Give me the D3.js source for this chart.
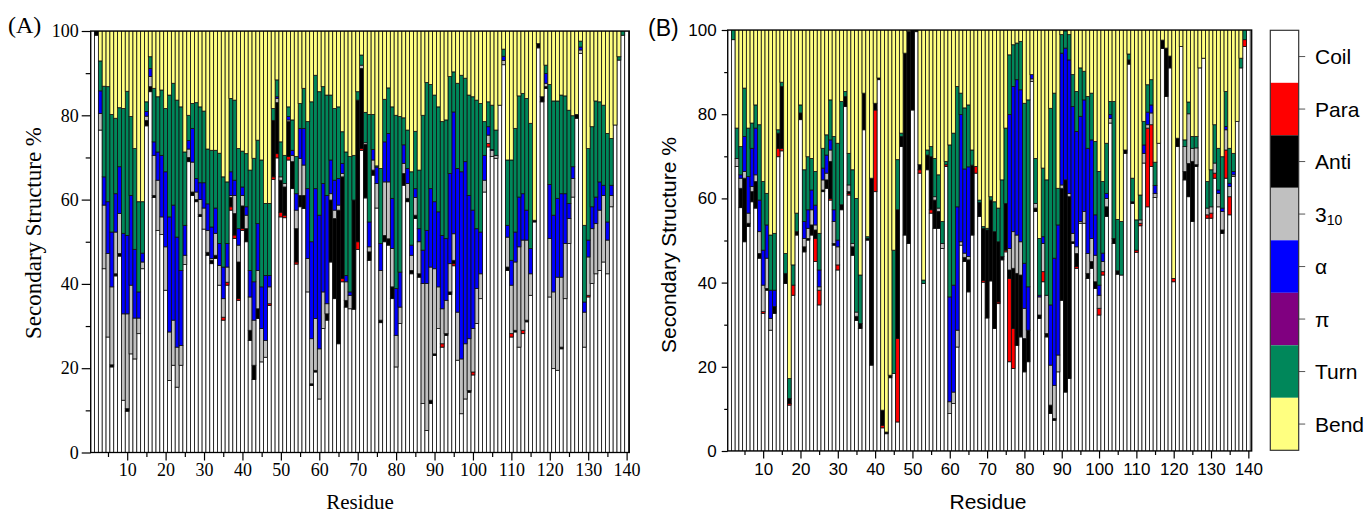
<!DOCTYPE html>
<html>
<head>
<meta charset="utf-8">
<script src="https://cdn.jsdelivr.net/npm/d3@7"></script>
<style>
  body { margin: 0; background: #fff; }
  svg { display: block; }
</style>
</head>
<body>
<svg id="chart" width="1368" height="515"></svg>
<script>
// Residue positions along the protein chain
const residues = d3.range(1, 141);

// Tick values
const yTickValues = [0, 20, 40, 60, 80, 100];
const yMinorTicks = [10, 30, 50, 70, 90];
const xTickValues = [10, 20, 30, 40, 50, 60, 70, 80, 90, 100, 110, 120, 130, 140];
const xMinorTicks = [5, 15, 25, 35, 45, 55, 65, 75, 85, 95, 105, 115, 125, 135];

// Secondary-structure classes, stacked from the bottom up
const classKeys = ["coil", "para", "anti", "h310", "alpha", "pi", "turn", "bend"];
const classLabels = ["Coil", "Para", "Anti", "3_10", "α", "π", "Turn", "Bend"];
const classColors = ["#FFFFFF", "#FF0000", "#000000", "#C0C0C0", "#0000FF", "#800080", "#00875A", "#FFFF80"];

// ---- Panel A: percentage of frames per residue ----
const coilA = [
  100,99,76.5,43.6,27.4,20.3,41.9,46.6,12.4,9.8,
  23.4,22.2,28.2,43.6,77.5,85.6,60.5,52.7,51.7,38.5,
  17.1,20.7,15.5,20.7,44.6,69,61,59.5,56,53,
  46.8,44.8,46,39.7,31.4,39.7,57.5,50.8,36.1,52.7,
  50,26.6,17.3,31.8,21.5,22.6,34.9,64.8,69.9,55.9,
  55.7,69.4,62.6,44.7,58.3,57.9,38.1,15.9,19.1,12.7,
  29.4,31.4,45.2,36.5,25.8,40.5,34.5,34.1,34,48.2,
  71.7,60.4,45.6,65.8,58,30.8,50,49.2,36.5,20.3,
  30.6,63.4,59.5,42.4,55.5,41.6,11.6,5.2,11.6,23,
  29.4,25,27.8,37.5,44.3,21.9,9.2,12.7,14.3,18.4,
  30.6,36.5,61.8,72.5,70.2,69.8,82.4,92,43.2,27.4,
  28.6,25,28.2,31,37.3,54.7,96,83.2,86.4,36.9,
  19.9,19.5,24.6,36.5,49.6,60.6,79.3,94.7,25,36.9,
  40.1,42.4,43.2,45.2,42.4,58.3,77.7,93.1,99,100
];
const paraA = [
  0,0,0,0,0,0,0,0,0,0,
  0,0,0,0,0,0,0,0,0,0,
  0,0,0,0,0,0,0,0,0,0,
  0,0,0,0,0.7,0.7,0.8,0.8,0.4,0.4,
  0,0,0,0,0,0,0.4,0.6,1,1.1,
  0.6,0.8,0,0.5,0,0,0,0,0,0,
  0,0,0,0,0,0.8,0,0,0,1.8,
  0.4,0,0,0,0,0,0,0,0,0,
  0,0,0,0,0,0,0,0,0,0,
  0,0.8,0,0,0.5,0,0,0,0,0.7,
  0,0,0,0.8,0,0,0,0,0,0.8,
  0,0,0.8,0,0,0,0,0,0,0,
  0,0,0,0,0,0,0,0,0,0.4,
  0,0,0,0,0,0,0,0,0,0
];
const antiA = [
  0,1,0,0,0,0.5,0.5,0.6,0,0.6,
  0,0,0,0,1.3,1.2,0.5,0,0,0,
  0,0,0,0,0,1,0.8,0.5,0.5,0,
  0.7,0.8,0.8,0,0,0,2.2,5.1,8.7,5.4,
  3.1,2.4,3.4,2.3,0,0,0,13.4,12.1,7.6,
  6.7,8.3,6.4,7.9,2.7,3.1,0,0.4,0.4,0,
  0,1.5,14.7,19,31.7,24.1,1.6,0,25.9,33.6,
  19,12.7,2,1.2,0,0.6,1.5,1.5,2.8,0,
  0,2.8,0.8,0.8,0.8,0.8,0,0,0.8,0.4,
  0,0,0.4,0.6,0.8,0,0,0,0.4,0,
  0,0,0,0,0,0,0,0,0.8,0,
  0.4,0,0,0.4,0,0.4,1,1.2,0.4,0,
  0,0,0.4,0,0,0,0.9,0,0,0,
  0,0,0,0,0,0,0,0,0,0
];
const h310A = [
  0,0,3.9,15.1,19.8,18.5,9.9,9.5,20.5,22.5,
  16.3,9.7,3.7,1.6,1,2.4,9.5,11.9,4.2,10.3,
  11.5,10.7,9.5,4.7,2.2,2,7.1,1.8,3.5,5,
  5.2,0.4,5.2,4.7,4.4,3.6,0.5,4.3,4,2.5,
  3.2,7.9,10.7,9.1,7.9,4,4,0,1,0.8,
  0.8,0.4,1.5,4.4,8.8,7.2,7.9,10.7,12.3,11.9,
  8.7,2.4,1.5,2,1.2,0.8,4.4,3.2,0,0,
  0.8,0.4,1.2,2.4,5.8,11.8,12.7,13.5,9.1,7.5,
  3.9,2.4,3.5,3.6,4.2,7.6,28.5,34.9,31.6,20.2,
  9.9,8.3,7.9,6.7,6.3,11.4,13,13.1,12.3,10.3,
  8.3,5.9,2.8,2,1.5,0.7,0,1,7.1,11.5,
  16.2,23.8,21.4,19,5.1,0,0,0,0.8,13.9,
  18.2,22.1,16.6,13.1,5.9,4.4,0,0.8,8.3,9.1,
  13,11.9,14.3,15.8,8,2.7,0,0,0,0
];
const alphaA = [
  0,0,5.4,6.7,12.3,13,9.1,11.1,19.1,18.6,
  21.3,16.3,6.2,2.1,1.1,1.9,3.2,6.7,14.6,17.8,
  27.3,27.3,26.1,17.8,7.1,2,8,3.2,4,6,
  6.3,7.5,6,5.2,7.5,5.6,5.6,3.6,3.9,2,
  2,6.3,9.1,11.1,9.9,15.4,2.7,0,0.4,0,
  0,0.8,1.2,3.9,7.1,8.7,16.6,23,30.8,31.7,
  25.7,25.7,8,7.1,6.3,2.4,1.5,0.8,0,0,
  0,0,5.9,2.5,3.9,6.4,9.5,11.5,11.9,11.1,
  8.3,4.4,3.6,2.4,2.1,3.1,7.9,12.6,18.6,15.9,
  17.8,17.4,14.7,21.4,28.9,34.1,44.4,43.2,34,28.1,
  14.2,9.9,5.9,2,0.2,0,0,1,2.8,5.9,
  7.1,11.8,11,7.1,6,0,0,0,2.3,12.8,
  18.2,18.7,19.8,11.8,3.6,2.8,0,0.7,2.4,4,
  5.2,6.3,6.7,2.4,4.3,2.4,0,0,0,0
];
const piA = [
  0,0,0,0,0,0,0,0,0,0,
  0,0,0,0,0,0,0,0,0,0,
  0,0,0,0,0,0,0,0,0,0,
  0,0,0,0,0,0,0,0,0,0,
  0,0,0,0,0,0,0,0,0,0,
  0,0,0,0,0,0,0,0,0,0,
  0,0,0,0,0,0,0,0,0,0,
  0,0,0,0,0,0,0,0,0,0,
  0,0,0,0,0,0,0,0,0,0,
  0,0,0,0,0,0,0,0,0,0,
  0,0,0,0,0,0,0,0,0,0,
  0,0,0,0,0,0,0,0,0,0,
  0,0,0,0,0,0,0,0,0,0,
  0,0,0,0,0,0,0,0,0,0
];
const turnA = [
  0,0,7.1,21.5,27.3,27.9,17.9,14,29.6,34.2,
  18.7,23.9,21.4,12.2,2.3,2.8,12.7,13.1,15.5,15,
  28.9,28.9,32.5,38.8,17.4,6,5.9,18,18,17,
  13,18.2,13.7,21.4,21.4,14.6,17.4,19,19,8.5,
  12.6,23.8,29.3,19.8,30.1,17.1,17.1,2.8,4,8.3,
  6.7,2.3,7.2,8.8,5.9,9.5,15.9,33.2,26.9,29.3,
  23,23.8,15.4,17,17,7.5,29.3,32.1,10.6,2,
  2.4,7.2,25.5,8.3,0.3,17.8,10.1,10.8,21.7,41.1,
  36.9,6.4,9.1,17.4,13.6,13.9,32,35.1,24.7,25.3,
  24.9,27,28.1,23,9.5,20.2,22.9,19.8,23.8,26.9,
  30.5,30.5,8,5.9,10.5,6,0,1.7,15.5,23.8,
  24.6,24,23.8,26.5,29.7,0,0,0,2,23.7,
  27.1,23.1,23.4,23.2,22.1,12.1,0,1.4,18.2,21.7,
  19,22.8,19,19,21,11.1,0,0.8,1,0
];
const bendA = [
  0,0,7.1,13.1,13.2,19.8,20.7,18.2,18.4,14.3,
  20.3,27.9,40.5,40.5,16.8,6.1,13.6,15.6,14,18.4,
  15.2,12.4,16.4,18,28.7,20,17.2,17,18,19,
  28,28.3,28.3,29,34.6,35.8,16,16.4,27.9,28.5,
  29.1,33,30.2,25.9,30.6,40.9,40.9,18.4,11.6,26.3,
  29.5,18,21.1,29.8,17.2,13.6,21.5,16.8,10.5,14.4,
  13.2,15.2,15.2,18.4,18,23.9,28.7,29.8,29.5,14.4,
  5.7,19.3,19.8,19.8,32,32.6,16.2,13.5,18,20,
  20.3,20.6,23.5,33.4,23.8,33,20,12.2,12.7,15.2,
  18,21.5,21.1,10.8,9.7,12.4,10.5,11.2,15.2,15.6,
  16.4,17.2,21.5,16.8,17.6,23.5,17.6,4.3,30.6,30.6,
  23.1,15.4,14.8,16,21.9,44.9,3,15.6,8.1,12.7,
  16.6,16.6,15.2,15.4,18.8,20.1,19.8,2.4,46.1,27.9,
  22.7,16.6,16.8,17.6,24.3,25.5,22.3,6.1,0,0
];

// ---- Panel B: percentage of frames per residue ----
const coilB = [
  100,97.7,67.6,57.8,49.7,53.3,59.2,57.7,45.8,32.7,
  38.2,28.7,32.7,69.9,71.3,39.8,10.9,37,51.3,78.7,
  47.3,50.1,51.3,45,34.7,61.6,62.4,59.6,48.9,43,
  57.3,81.8,60.8,46.5,31,29.1,76.3,50.1,20.4,61.6,
  88.2,5.5,4.1,17.4,18.4,6.9,72.3,51.3,49.3,81,
  99.6,66,39.8,66.8,56.5,52.9,52.9,48.1,67.6,8.9,
  11.3,24.7,48.9,45,37.8,51.3,66,55.7,40.1,31.6,
  40.4,29.1,35,45.4,47.3,21.2,19.6,25.1,27.1,18.8,
  21.2,87.8,56.9,31.5,40.2,27.1,8.9,7.3,18.8,35.8,
  14,17.2,49.3,43.4,54.1,54.1,41,43.4,38.6,32.3,
  41.8,55.7,77.9,49.3,42,41.8,70.7,91.9,58.8,47.2,
  53.5,68.4,58,67.6,60.2,73.1,95.6,84.2,91,40.2,
  72.3,96.1,64.4,60.4,54.5,67.6,91,93.3,55.3,55.3,
  64.8,58,51.7,64.8,56.1,65.2,78.3,91,96.1,100
];
const paraB = [
  0,0,0,0,0,0,0,0,0,0.4,
  0,0,0,2,0.6,0,0.4,2.4,0,0,
  0,0,0,5.5,3.5,0,0,0.4,0,1.2,
  0,0,0.4,0,0,0,0,0,0,19.4,
  0,0.6,0,0,0,19.8,0,0,0,0,
  0,0.8,0,0,0.8,0,0,0,0.4,0,
  0,0,0,0,0,0,1.6,0,0.4,0,
  0,0,0.4,0,0.4,19.8,9.5,0,0,0,
  0,0,0,0,2.4,0,0,0,0,0,
  0,0,0,0.4,0,0,0,0,0,1.6,
  0.8,0,0,0,0,0,0,0,0,0.5,
  0.6,0,18.7,9.9,0,0,0,0,0,0.8,
  0,0,0,0,0,0,0,0,0.8,1.2,
  1.2,0,0,6.7,4.3,0,0,0,1.6,0
];
const antiB = [
  0,0,0,4.6,15.1,0.8,2.4,6.3,1.1,0,
  0.4,0,1.6,3.6,14.7,2.4,1.2,0,0.8,1.6,
  1.2,0.4,2.4,2,0,0.4,2,8.8,0.4,0,
  1.2,2.4,0.4,2,1,1.2,8.7,0.4,44.4,1.6,
  0.4,3.6,0.4,0.6,0,30.6,2.4,43.2,50.4,19,
  0.4,1.2,0,3.5,12.6,6.7,4,0,0,0,
  0,0,0,1,7.6,16.6,0,3.3,12.4,20.9,
  19.2,23,14.3,0.8,11.1,2,14.3,17.1,14.7,7.9,
  7.5,0,0.8,0.8,0,0.8,2,0.4,0,26.6,
  50.4,43.2,0.4,3.1,0,0,1.2,1.6,1.6,0,
  0,2.3,0,1.2,0.8,0,0.8,1,0.4,0,
  0,0,0,0,0,0,2,11.5,2.8,0,
  2,0,2,7.9,14.3,0.4,0,0,0,0,
  0,0,0.8,0,0,0,0,0,0,0
];
const h310B = [
  0,0,1.9,2.4,1.6,2.4,1.2,1.6,5.2,6.3,
  7.2,2.8,0,0,0,0,0,0,0,0,
  2,2.4,3.6,1.2,0.8,2.4,1.6,2.7,5.2,4.3,
  0,0,1.6,0.8,1,0,0,0,0,0,
  0,0,0,0,0,0,0,0,0,0,
  0,0,0,0,0,0.8,0.8,1.2,0,2.8,
  2.7,4,0.8,1,0.8,0,0,0,0,0,
  0,0,0,0,0,5.1,8.7,9.1,7.9,7.2,
  0,0.6,1.1,4.3,6.7,9.1,9.5,7.9,4,0.8,
  0,0.8,2,1.6,0.4,2.8,4.7,5.5,6.3,3.1,
  2.4,2,1.1,0,0,0,0,0,0,0,
  0.8,2.3,0.8,2.8,1,0,0,0,0,0,
  0,0,5.9,11.8,3.1,4,0,0,1.6,1.5,
  2.4,3.2,4.4,4.8,2.4,0.4,0,0,0,0
];
const alphaB = [
  0,0,0,0.8,8.3,8.7,9.1,11.1,7.5,8.3,
  7.9,6.7,3.9,0,0,0,0,0,0,0,
  4,4.4,4.7,4.7,4,2.8,4.3,2.4,2.8,1.6,
  0,0,0,0,0,0,0,0,0,0,
  0,0,0,0,0,0,0,0,0,0,
  0,0,0,0,0,0,0,0,0,24.9,
  25.4,29.3,30.2,20,21.3,0,0,0,0,0,
  0,0,0,0,0,31.8,34.5,36.9,36.1,10.7,
  10.3,1,0,0.4,1.6,0,14.3,30.2,30.9,31.3,
  31.3,31.7,30.1,27.4,25,26.5,25,23.4,9.6,2.4,
  2,1.2,0.9,0,0,0,0,0,0,0,
  0,2,3,1.9,1.9,0,0,0,0,0,
  0,0,0,0,0,0,0,0,0,0,
  0,0.8,0.8,0.8,0.8,0.8,0,0,0,0
];
const piB = [
  0,0,0,0,0,0,0,0,0,0,
  0,0,0,0,0,0,0,0,0,0,
  0,0,0,0,0,0,0,0,0,0,
  0,0,0,0,0,0,0,0,0,0,
  0,0,0,0,0,0,0,0,0,0,
  0,0,0,0,0,0,0,0,0,0,
  0,0,0,0,0,0,0,0,0,0,
  0,0,0,0,0,0,0,0,0,0,
  0,0,0,0,0,0,0,0,0,0,
  0,0,0,0,0,0,0,0,0,0,
  0,0,0,0,0,0,0,0,0,0,
  0,0,0,0,0,0,0,0,0,0,
  0,0,0,0,0,0,0,0,0,0,
  0,0,0,0,0,0,0,0,0,0
];
const turnB = [
  0,2.3,7.2,6.7,11.5,11.5,6,5.5,17.9,16.3,
  7.5,13.1,13.5,0.8,1,4.7,4.7,4.8,4.4,1.9,
  12.3,12.6,7.5,8,8.7,4.7,4.8,9.5,17.4,23,
  24.5,1.2,7.5,17.5,27,11.5,0,0.4,0,0,
  0,0,0,0,29.3,11.9,0.8,0,0,0,
  0,0,0.8,1.2,2.4,9.1,7.9,5.2,0.8,36.1,
  36.1,28.6,5.1,14.5,14.7,3.6,0,0.6,0.4,0.4,
  0.8,7.1,8,18.2,17.9,14.2,9.9,8.7,11.5,38,
  44.4,0,10.7,13.5,16.3,27.4,46.7,39.2,8.7,4.4,
  4.1,6,7.6,9.5,11.5,6.8,12.3,11.1,17.4,27,
  17,11.9,3.1,32.5,12.2,12.7,0,1.4,5.6,7.2,
  5.9,5.6,6.5,6,5.5,0,0,0,0,0,
  0,0,1.6,2.8,2.8,2.7,0,0,6.3,8.8,
  9.1,9.9,12.2,8.3,8.3,4.3,0,2.3,2.3,0
];
const bendB = [
  0,0,23.3,27.7,13.8,23.3,22.1,17.8,22.5,36,
  38.8,48.7,48.3,23.7,12.4,53.1,82.8,55.8,43.5,17.8,
  33.2,30.1,30.5,33.6,48.3,28.1,24.9,16.6,25.3,26.9,
  17,14.6,29.3,33.2,40,58.2,15,49.1,35.2,17.4,
  11.4,90.3,95.5,82,52.3,30.8,24.5,5.5,0.3,0,
  0,32,59.4,28.5,27.7,30.5,34.4,45.5,31.2,27.3,
  24.5,13.4,15,18.5,17.8,28.5,32.4,40.4,46.7,47.1,
  39.6,40.8,42.3,35.6,23.3,5.9,3.5,3.1,2.7,17.4,
  16.6,10.6,30.5,49.5,32.8,35.6,18.6,15,37.6,1.1,
  0.2,1.1,10.6,14.6,9,9.8,15.8,15,26.5,33.6,
  36,26.9,17,17,45,45.5,28.5,5.7,35.2,45.1,
  39.2,21.7,13,11.8,31.4,26.9,2.4,4.3,6.2,59,
  25.7,3.9,26.1,17.1,25.3,25.3,9,6.7,36,33.2,
  22.5,28.1,30.1,14.6,28.1,29.3,21.7,6.7,0,0
];

const SERIF = "'Liberation Serif', 'Times New Roman', serif";
const SANS = "'Liberation Sans', Arial, sans-serif";

const svg = d3.select("#chart");
svg.append("rect").attr("width", 1368).attr("height", 515).attr("fill", "#fff");

// Turn per-class arrays into one row per residue for d3.stack
function buildRows(seriesList) {
  return residues.map((r, i) => {
    const row = { residue: r };
    classKeys.forEach((k, j) => { row[k] = seriesList[j][i]; });
    return row;
  });
}

const stack = d3.stack().keys(classKeys);

function drawPanel(cfg) {
  const { id, left, right, top, bottom, xDomain, seriesList, font,
          yTick, yMinor, xTick, xMinor, tickFont, tickPadY, tickPadX } = cfg;
  const x = d3.scaleLinear().domain(xDomain).range([left, right]);
  const y = d3.scaleLinear().domain([0, 100]).range([bottom, top]);
  const g = svg.append("g");

  svg.append("clipPath").attr("id", "clip-" + id)
    .append("rect").attr("x", left).attr("y", top)
    .attr("width", right - left).attr("height", bottom - top);

  const layers = stack(buildRows(seriesList));
  const bars = g.append("g").attr("clip-path", `url(#clip-${id})`);
  layers.forEach((layer, li) => {
    bars.append("g")
      .selectAll("rect")
      .data(layer.filter(d => d[1] - d[0] > 0))
      .join("rect")
      .attr("x", d => x(d.data.residue - 0.5))
      .attr("width", d => x(d.data.residue + 0.5) - x(d.data.residue - 0.5))
      .attr("y", d => y(Math.min(d[1], 100)))
      .attr("height", d => y(d[0]) - y(Math.min(d[1], 100)))
      .attr("fill", classColors[li])
      .attr("stroke", "#111")
      .attr("stroke-width", 0.8);
  });

  // Frame
  g.append("rect").attr("x", left).attr("y", top)
    .attr("width", right - left).attr("height", bottom - top)
    .attr("fill", "none").attr("stroke", "#000").attr("stroke-width", 1.3);

  // Left axis: major + minor ticks
  const yAxis = g.append("g").attr("transform", `translate(${left},0)`)
    .call(d3.axisLeft(y).tickValues(yTickValues).tickSize(yTick).tickPadding(tickPadY).tickSizeOuter(0));
  g.append("g").attr("transform", `translate(${left},0)`)
    .call(d3.axisLeft(y).tickValues(yMinorTicks).tickSize(yMinor).tickFormat("").tickSizeOuter(0))
    .call(s => s.select(".domain").remove());
  yAxis.select(".domain").remove();

  // Bottom axis: major + minor ticks
  const xAxis = g.append("g").attr("transform", `translate(0,${bottom})`)
    .call(d3.axisBottom(x).tickValues(xTickValues).tickSize(xTick).tickPadding(tickPadX).tickSizeOuter(0));
  g.append("g").attr("transform", `translate(0,${bottom})`)
    .call(d3.axisBottom(x).tickValues(xMinorTicks).tickSize(xMinor).tickFormat("").tickSizeOuter(0))
    .call(s => s.select(".domain").remove());
  xAxis.select(".domain").remove();

  g.selectAll(".tick line").attr("stroke", "#000").attr("stroke-width", 1.2);
  g.selectAll(".tick text").attr("font-family", font).attr("font-size", tickFont).attr("fill", "#000");
  return { x, y };
}

// Panel A
drawPanel({
  id: "a", left: 90.7, right: 629.3, top: 31, bottom: 452.5, xDomain: [0.5, 140.7],
  seriesList: [coilA, paraA, antiA, h310A, alphaA, piA, turnA, bendA],
  font: SERIF, yTick: 9, yMinor: 5, xTick: 8, xMinor: 4.5, tickFont: 18, tickPadY: 3, tickPadX: 3
});

// Panel B
drawPanel({
  id: "b", left: 727.7, right: 1251.7, top: 30, bottom: 451, xDomain: [0.5, 140.9],
  seriesList: [coilB, paraB, antiB, h310B, alphaB, piB, turnB, bendB],
  font: SANS, yTick: 6, yMinor: 3.5, xTick: 7.5, xMinor: 4, tickFont: 17, tickPadY: 5, tickPadX: 4
});

// Titles
svg.append("text").attr("x", 8).attr("y", 33).text("(A)")
  .attr("font-family", SERIF).attr("font-size", 24);
svg.append("text").attr("x", 648).attr("y", 36).text("(B)")
  .attr("font-family", SANS).attr("font-size", 23);

svg.append("text").attr("transform", "translate(33,233) rotate(-90)")
  .attr("text-anchor", "middle").attr("dominant-baseline", "central")
  .attr("font-family", SERIF).attr("font-size", 23).text("Secondary Structure %");
svg.append("text").attr("x", 360).attr("y", 509)
  .attr("text-anchor", "middle")
  .attr("font-family", SERIF).attr("font-size", 21).text("Residue");

svg.append("text").attr("transform", "translate(668,245) rotate(-90)")
  .attr("text-anchor", "middle").attr("dominant-baseline", "central")
  .attr("font-family", SANS).attr("font-size", 21).text("Secondary Structure %");
svg.append("text").attr("x", 988).attr("y", 509)
  .attr("text-anchor", "middle")
  .attr("font-family", SANS).attr("font-size", 21).text("Residue");

// Colour key: legend order matches the stack, Coil at the top of the key
const keyTop = 30.3, keyH = 52.5, keyX = 1270.3, keyW = 28.4;
const key = svg.append("g");
classKeys.forEach((k, i) => {
  key.append("rect").attr("x", keyX).attr("y", keyTop + i * keyH)
    .attr("width", keyW).attr("height", keyH).attr("fill", classColors[i]);
  const cy = keyTop + i * keyH + keyH / 2;
  key.append("line").attr("x1", keyX + keyW).attr("x2", keyX + keyW + 6.5)
    .attr("y1", cy).attr("y2", cy).attr("stroke", "#555").attr("stroke-width", 1);
  const t = key.append("text").attr("x", 1315).attr("y", cy)
    .attr("dominant-baseline", "central")
    .attr("font-family", SANS).attr("font-size", 21).attr("fill", "#000");
  if (classLabels[i] === "3_10") {
    t.append("tspan").text("3");
    t.append("tspan").attr("font-size", 14).attr("dy", 6).text("10");
  } else {
    t.text(classLabels[i]);
  }
});
key.append("rect").attr("x", keyX).attr("y", keyTop)
  .attr("width", keyW).attr("height", keyH * 8)
  .attr("fill", "none").attr("stroke", "#333").attr("stroke-width", 1.2);
</script>
</body>
</html>
